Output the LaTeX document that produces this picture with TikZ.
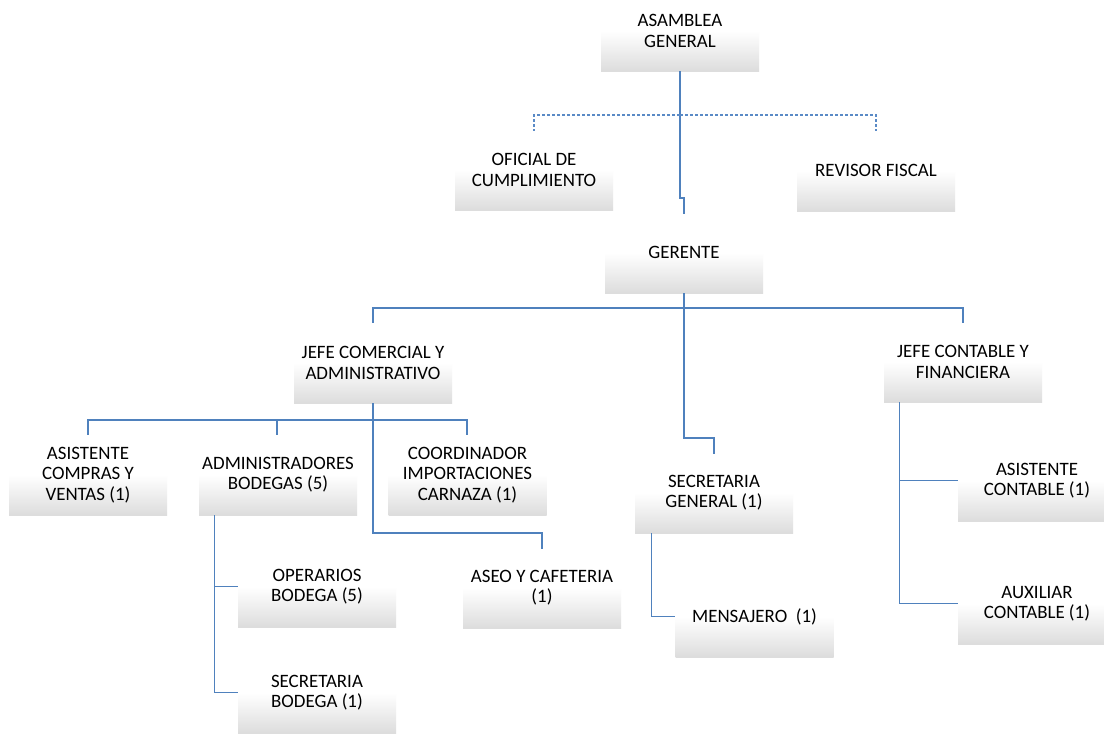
\documentclass[tikz,border=0pt]{standalone}
\usepackage{fontspec}
\setmainfont{Carlito}
\definecolor{lineblue}{HTML}{4F81BD}
\definecolor{dashblue}{HTML}{5A8AC6}
\tikzset{
  box/.style={rectangle, minimum width=158pt, minimum height=40pt, inner sep=0pt,
    draw=none, top color=white, bottom color=gray!27},
  lbl/.style={align=center, inner sep=1pt, text=black,
    font=\fontsize{18.9}{20.6}\selectfont},
  conn/.style={draw=lineblue, line width=1.2pt},
  dconn/.style={draw=dashblue, line width=1.1pt, dash pattern=on 3pt off 2pt}
}
\begin{document}
\begin{tikzpicture}[x=1pt, y=-1pt]
\useasboundingbox (0,0) rectangle (1104,734);
\clip (0,0) rectangle (1104,734);
\fill[white] (0,0) rectangle (1104,734);

% boxes
\node[box] (asam) at (680,51) {};
\node[box] (ofic) at (534,190) {};
\node[box] (revi) at (876,191) {};
\node[box] (ger) at (684,273) {};
\node[box] (jcom) at (373,383) {};
\node[box] (jcon) at (963,382) {};
\node[box] (asis) at (88,495) {};
\node[box] (adm) at (278,495) {};
\node[box] (coord) at (467.5,495) {};
\node[box] (secg) at (714,513) {};
\node[box] (asc) at (1037,501) {};
\node[box] (oper) at (317,607) {};
\node[box] (aseo) at (542,608) {};
\node[box] (mens) at (754.5,637) {};
\node[box] (aux) at (1037,624) {};
\node[box] (secb) at (317,713) {};

% connectors
\coordinate (a1) at (684,198);
\coordinate (a2) at (684,214);
\draw[conn] (asam.south) |- (a1) -- (a2);

\coordinate (dj) at (680,115);
\coordinate (d1) at (534,131);
\coordinate (d2) at (876,131);
\draw[dconn] (dj) -| (d1);
\draw[dconn] (dj) -| (d2);

\coordinate (g0) at (684,308);
\coordinate (g1) at (373,323);
\coordinate (g2) at (963,323);
\coordinate (g3) at (714,454);
\draw[conn] (ger.south) -- (g0) -| (g1);
\draw[conn] (g0) -| (g2);
\draw[conn] (g0) |- (700,438) -| (g3);

\coordinate (c0) at (373,420);
\coordinate (c1) at (88,435);
\coordinate (c2) at (277,435);
\coordinate (c3) at (467,435);
\coordinate (c4) at (542,549);
\draw[conn] (jcom.south) -- (c0) -| (c1);
\draw[conn] (c0) -| (c2);
\draw[conn] (c0) -| (c3);
\draw[conn] (c0) |- (450,533) -| (c4);

\draw[conn] ([xshift=16pt]adm.south west) |- (oper.north west);
\draw[conn] ([xshift=16pt]adm.south west) |- (secb.north west);
\draw[conn] ([xshift=17pt]secg.south west) |- (mens.north west);
\draw[conn] ([xshift=16pt]jcon.south west) |- (asc.north west);
\draw[conn] ([xshift=16pt]jcon.south west) |- (aux.north west);

% labels
\node[lbl] (asam-t) at (asam.north) {ASAMBLEA\\GENERAL};
\node[lbl] (ofic-t) at (ofic.north) {OFICIAL DE\\CUMPLIMIENTO};
\node[lbl] (revi-t) at (revi.north) {REVISOR FISCAL};
\node[lbl] (ger-t) at (ger.north) {GERENTE};
\node[lbl] (jcom-t) at (jcom.north) {JEFE COMERCIAL Y\\ADMINISTRATIVO};
\node[lbl] (jcon-t) at (jcon.north) {JEFE CONTABLE Y\\FINANCIERA};
\node[lbl] (asis-t) at (asis.north) {ASISTENTE\\COMPRAS Y\\VENTAS (1)};
\node[lbl] (adm-t) at (adm.north) {ADMINISTRADORES\\BODEGAS (5)};
\node[lbl] (coord-t) at (coord.north) {COORDINADOR\\IMPORTACIONES\\CARNAZA (1)};
\node[lbl] (secg-t) at (secg.north) {SECRETARIA\\GENERAL (1)};
\node[lbl] (asc-t) at (asc.north) {ASISTENTE\\CONTABLE (1)};
\node[lbl] (oper-t) at (oper.north) {OPERARIOS\\BODEGA (5)};
\node[lbl] (aseo-t) at (aseo.north) {ASEO Y CAFETERIA\\(1)};
\node[lbl] (mens-t) at (mens.north) {MENSAJERO\ \ (1)};
\node[lbl] (aux-t) at (aux.north) {AUXILIAR\\CONTABLE (1)};
\node[lbl] (secb-t) at (secb.north) {SECRETARIA\\BODEGA (1)};
\end{tikzpicture}
\end{document}
